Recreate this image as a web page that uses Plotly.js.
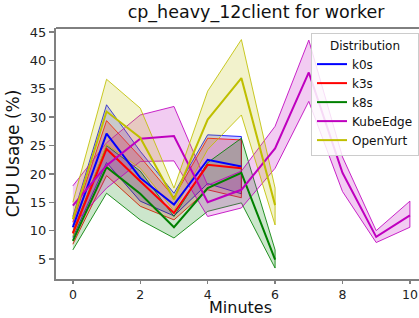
<!DOCTYPE html>
<html>
<head>
<meta charset="utf-8">
<script src="https://cdn.plot.ly/plotly-3.0.1.min.js"></script>
<style>html,body{margin:0;padding:0;background:#fff;}#chart{width:419px;height:318px;}</style>
</head>
<body>
<div id="chart"></div>
<script>
const minutes = [0, 1, 2, 3, 4, 5, 6, 7, 8, 9, 10];

const k0sMean  = [10.6, 27.1, 19.3, 14.6, 22.5, 21.3];
const k0sUpper = [12.5, 32.2, 24.0, 16.6, 26.9, 26.6];
const k0sLower = [8.8, 22.0, 15.2, 12.6, 18.3, 16.5];

const k3sMean  = [9.5, 24.4, 18.7, 13.1, 21.6, 21.0];
const k3sUpper = [11.5, 29.4, 23.0, 15.9, 26.3, 26.0];
const k3sLower = [7.6, 19.7, 14.3, 11.9, 17.2, 15.8];

const k8sMean  = [8.2, 21.2, 16.5, 10.6, 17.5, 20.2, 4.9];
const k8sUpper = [9.8, 25.0, 20.5, 12.5, 22.0, 26.3, 6.6];
const k8sLower = [6.6, 16.6, 11.9, 8.7, 13.4, 14.9, 3.4];

const kubeEdgeMean  = [14.4, 21.5, 26.2, 26.7, 15.0, 17.2, 24.5, 37.9, 20.2, 8.9, 12.7];
const kubeEdgeUpper = [17.9, 25.5, 30.4, 31.9, 18.0, 20.5, 28.4, 43.6, 23.0, 10.0, 15.2];
const kubeEdgeLower = [11.0, 17.5, 22.2, 22.3, 12.5, 14.0, 21.0, 32.8, 16.9, 7.9, 10.6];

const openYurtMean  = [12.0, 31.0, 26.4, 15.5, 29.6, 36.9, 14.5];
const openYurtUpper = [15.0, 36.7, 31.6, 17.5, 34.6, 43.7, 17.5];
const openYurtLower = [9.0, 25.2, 21.0, 13.5, 24.3, 30.4, 11.0];

const seriesNames = ['k0s', 'k3s', 'k8s', 'KubeEdge', 'OpenYurt'];

const series = [
  {name: 'k0s', mean: k0sMean, upper: k0sUpper, lower: k0sLower, rgb: [0, 0, 255]},
  {name: 'k3s', mean: k3sMean, upper: k3sUpper, lower: k3sLower, rgb: [255, 0, 0]},
  {name: 'k8s', mean: k8sMean, upper: k8sUpper, lower: k8sLower, rgb: [0, 128, 0]},
  {name: 'KubeEdge', mean: kubeEdgeMean, upper: kubeEdgeUpper, lower: kubeEdgeLower, rgb: [191, 0, 191]},
  {name: 'OpenYurt', mean: openYurtMean, upper: openYurtUpper, lower: openYurtLower, rgb: [191, 191, 0]}
];

const rgba = (c, a) => `rgba(${c[0]},${c[1]},${c[2]},${a})`;

const traces = [];
series.forEach(s => {
  const xs = minutes.slice(0, s.mean.length);
  traces.push({
    x: xs.concat(xs.slice().reverse()),
    y: s.upper.concat(s.lower.slice().reverse()),
    mode: 'lines', fill: 'toself',
    fillcolor: rgba(s.rgb, 0.2),
    line: {color: rgba(s.rgb, 0.85), width: 1},
    showlegend: false, hoverinfo: 'skip'
  });
});
series.forEach(s => {
  const xs = minutes.slice(0, s.mean.length);
  traces.push({
    x: xs, y: s.mean, mode: 'lines', name: s.name,
    line: {color: rgba(s.rgb, 1), width: 2}
  });
});

const font = "DejaVu Sans, sans-serif";
const layout = {
  width: 419, height: 318,
  margin: {l: 56, r: 0, t: 28, b: 39},
  paper_bgcolor: '#fff', plot_bgcolor: '#fff',
  font: {family: font, color: '#222', size: 13},
  title: {text: 'cp_heavy_12client for worker', font: {family: font, size: 17.5, color: '#111'},
          x: 0.611, xref: 'container', xanchor: 'center', y: 0.962, yref: 'container', yanchor: 'middle'},
  xaxis: {
    range: [-0.5, 10.27], tickvals: [0, 2, 4, 6, 8, 10],
    showgrid: false, zeroline: false,
    showline: true, linecolor: '#808080', linewidth: 2,
    ticks: 'outside', ticklen: 3, tickcolor: '#808080', tickwidth: 1.5,
    tickfont: {family: font, size: 12.5, color: '#222'}
  },
  yaxis: {
    range: [1.47, 45.74], tickvals: [5, 10, 15, 20, 25, 30, 35, 40, 45],
    showgrid: false, zeroline: false,
    showline: true, linecolor: '#808080', linewidth: 2,
    ticks: 'outside', ticklen: 5, tickcolor: '#808080', tickwidth: 1.5,
    tickfont: {family: font, size: 13, color: '#222'},
    title: {text: 'CPU Usage (%)', font: {family: font, size: 17, color: '#111'}, standoff: 6}
  },
  annotations: [
    {text: 'Minutes', xref: 'paper', yref: 'paper', x: (240 - 56) / 363, y: (279 - 307.5) / 251,
     xanchor: 'center', yanchor: 'middle', showarrow: false,
     font: {family: font, size: 16, color: '#111'}}
  ],
  shapes: [
    {type: 'line', xref: 'paper', yref: 'paper', x0: 0, x1: 1, y0: 1, y1: 1, line: {color: '#000', width: 1}}
  ],
  legend: {
    x: 1, xanchor: 'right', y: 0.98, yanchor: 'top',
    bgcolor: 'rgba(255,255,255,0.85)', bordercolor: '#cccccc', borderwidth: 1,
    font: {family: font, size: 12, color: '#111'},
    title: {text: 'Distribution', font: {family: font, size: 12, color: '#111'}, side: 'top center'},
    itemwidth: 30
  },
  showlegend: true
};

Plotly.newPlot('chart', traces, layout, {displayModeBar: false, staticPlot: true});
</script>
</body>
</html>
